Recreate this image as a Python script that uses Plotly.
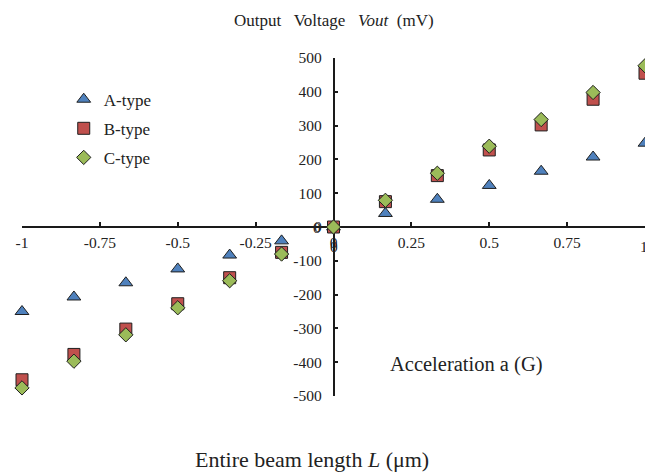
import plotly.graph_objects as go

x_vals = [-1, -5/6, -4/6, -3/6, -2/6, -1/6, 0, 1/6, 2/6, 3/6, 4/6, 5/6, 1]
a_type = [-250, -207, -165, -124, -83, -41, 0, 40, 82, 123, 165, 207, 248]
b_type = [-452, -377, -302, -227, -150, -75, 0, 75, 152, 228, 302, 378, 455]
c_type = [-476, -397, -319, -239, -159, -80, 0, 79, 159, 239, 318, 398, 477]

x_ticks = [-1, -0.75, -0.5, -0.25, 0, 0.25, 0.5, 0.75, 1]
x_tick_text = ["-1", "-0.75", "-0.5", "-0.25", "0", "0.25", "0.5", "0.75", "1"]
y_ticks = [-500, -400, -300, -200, -100, 0, 100, 200, 300, 400, 500]
y_tick_text = ["-500", "-400", "-300", "-200", "-100", "0", "100", "200", "300", "400", "500"]

FONT = "Liberation Serif, Times New Roman, serif"
TXT = "#222"
outline = dict(color="#1f1f1f", width=1)

fig = go.Figure()
series = [
    ("A-type", a_type, "triangle-up", "#4F81BD", 12),
    ("B-type", b_type, "square", "#C0504D", 12),
    ("C-type", c_type, "diamond", "#9BBB59", 11),
]
for name, ys, sym, col, sz in series:
    fig.add_trace(go.Scatter(
        x=x_vals, y=ys, mode="markers", name=name, legendgroup=name,
        marker=dict(symbol=sym, color=col, size=sz, line=outline),
        cliponaxis=False,
    ))

x_range = [-1.0, 1.0]
y_pos = (0 - x_range[0]) / (x_range[1] - x_range[0])

axis_common = dict(
    ticks="inside", ticklen=4, tickwidth=1.5, tickcolor="#1a1a1a",
    showline=True, linecolor="#1a1a1a", linewidth=1.5,
    showgrid=False, zeroline=False,
    tickfont=dict(family=FONT, size=15.5, color=TXT),
    layer="below traces",
)

tick_font = dict(family=FONT, size=15.5, color=TXT)

fig.update_layout(
    width=645, height=474,
    margin=dict(l=22, r=0, t=58, b=78),
    paper_bgcolor="white", plot_bgcolor="white",
    font=dict(family=FONT, size=15, color=TXT),
    showlegend=True,
    legend=dict(x=0.067, y=0.93, xanchor="left", yanchor="top",
                font=dict(family=FONT, size=17, color=TXT),
                tracegroupgap=4, bgcolor="rgba(0,0,0,0)"),
    xaxis=dict(range=x_range, anchor="free", position=0.5,
               tickvals=x_ticks, ticktext=x_tick_text, ticklabelstandoff=2,
               **axis_common),
    yaxis=dict(range=[-500, 500], anchor="free", position=y_pos,
               tickvals=y_ticks, ticktext=y_tick_text, ticklabelstandoff=8,
               **axis_common),
    annotations=[
        dict(text="0", xref="x", yref="y", x=0, y=0, xshift=-11, yshift=0,
             xanchor="right", yanchor="middle", showarrow=False, font=tick_font),
        dict(text="0", xref="x", yref="y", x=0, y=0, yshift=-9,
             xanchor="center", yanchor="top", showarrow=False, font=tick_font),
        dict(text="1", xref="x", yref="y", x=1, y=0, yshift=-9, xshift=-1,
             xanchor="center", yanchor="top", showarrow=False, font=tick_font),
        dict(text="Output&nbsp;&nbsp; Voltage&nbsp;&nbsp; <i>Vout</i>&nbsp; (mV)",
             xref="paper", yref="paper", x=y_pos, y=1, yshift=38,
             xanchor="center", yanchor="middle", showarrow=False,
             font=dict(family=FONT, size=17, color=TXT)),
        dict(text="Acceleration a (G)", xref="paper", yref="y", x=0.713, y=-408,
             xanchor="center", yanchor="middle", showarrow=False,
             font=dict(family=FONT, size=20.5, color=TXT)),
        dict(text="Entire beam length <i>L</i> (μm)", xref="paper", yref="paper",
             x=0.465, y=0, yshift=-63, xanchor="center", yanchor="middle",
             showarrow=False, font=dict(family=FONT, size=22, color=TXT)),
    ],
)

fig.write_html("out.html")
